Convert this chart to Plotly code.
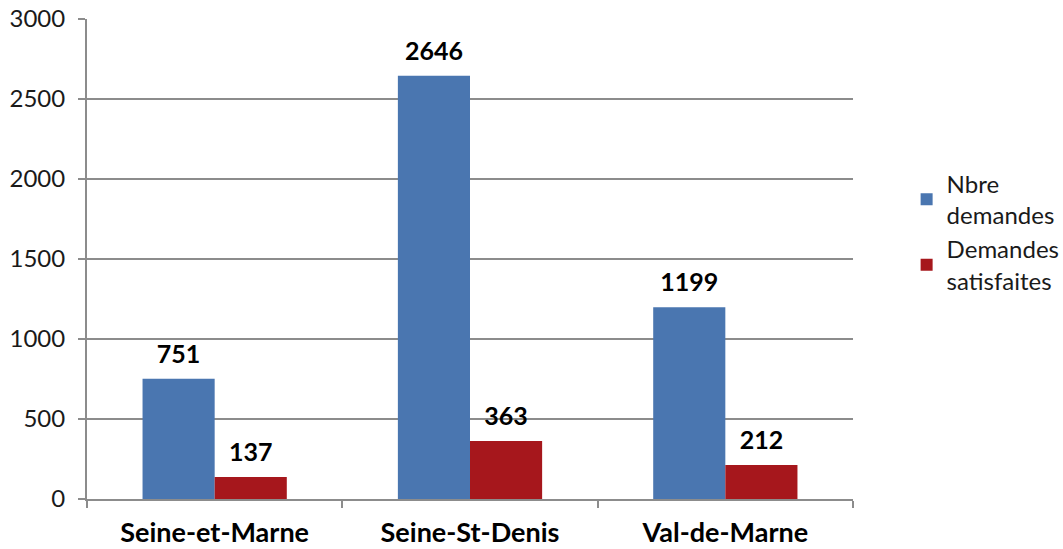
import plotly.graph_objects as go

categories = ["Seine-et-Marne", "Seine-St-Denis", "Val-de-Marne"]
nbre_demandes = [751, 2646, 1199]
demandes_satisfaites = [137, 363, 212]
series_names = ["Nbre<br>demandes", "Demandes<br>satisfaites"]
series_colors = ["#4A76B0", "#A6171C"]
y_ticks = [0, 500, 1000, 1500, 2000, 2500, 3000]

font_family = "Lato, Open Sans, sans-serif"
grid_color = "#8c8c8c"

fig = go.Figure()
for i, (vals, name, col) in enumerate(zip([nbre_demandes, demandes_satisfaites], series_names, series_colors)):
    fig.add_trace(go.Bar(
        x=categories, y=vals, name=name, offsetgroup=str(i),
        marker=dict(color=col, line=dict(width=0)),
    ))
for i, vals in enumerate([nbre_demandes, demandes_satisfaites]):
    fig.add_trace(go.Scatter(
        x=categories, y=vals, mode="markers+text", offsetgroup=str(i),
        marker=dict(size=14, opacity=0),
        text=[f"<b>{v}</b>" for v in vals], textposition="top center",
        textfont=dict(size=25, color="#000000", family=font_family),
        showlegend=False, hoverinfo="skip", cliponaxis=False,
    ))

fig.update_layout(
    width=1063, height=549,
    margin=dict(l=87, r=210, t=19, b=50, autoexpand=False),
    paper_bgcolor="white", plot_bgcolor="white",
    barmode="group", bargap=0.435, bargroupgap=0,
    scattermode="group", scattergap=0.435,
    font=dict(family=font_family, size=24, color="#1a1a1a"),
    legend=dict(
        x=1.07, xanchor="left", y=0.556, yanchor="middle",
        font=dict(size=24, family=font_family, color="#1a1a1a"),
        tracegroupgap=12, itemwidth=30,
    ),
    showlegend=True,
)
fig.update_xaxes(
    type="category", showline=True, linecolor=grid_color, linewidth=2,
    ticks="outside", tickson="boundaries", ticklen=7, tickcolor=grid_color, tickwidth=2,
    tickfont=dict(size=27, family=font_family, color="#000000", weight="bold"),
    ticklabelstandoff=9,
    showgrid=False, automargin=False,
)
fig.update_yaxes(
    range=[0, 3000], tickvals=y_ticks, showline=True, linecolor=grid_color, linewidth=2,
    ticks="outside", ticklen=7, tickcolor=grid_color, tickwidth=2,
    showgrid=True, gridcolor=grid_color, gridwidth=2,
    tickfont=dict(size=24, family=font_family, color="#1a1a1a"),
    ticklabelstandoff=8,
    zeroline=False, automargin=False,
)

fig.write_html("out.html", config={"displayModeBar": False},
               post_script="document.body.style.margin='0px';")
